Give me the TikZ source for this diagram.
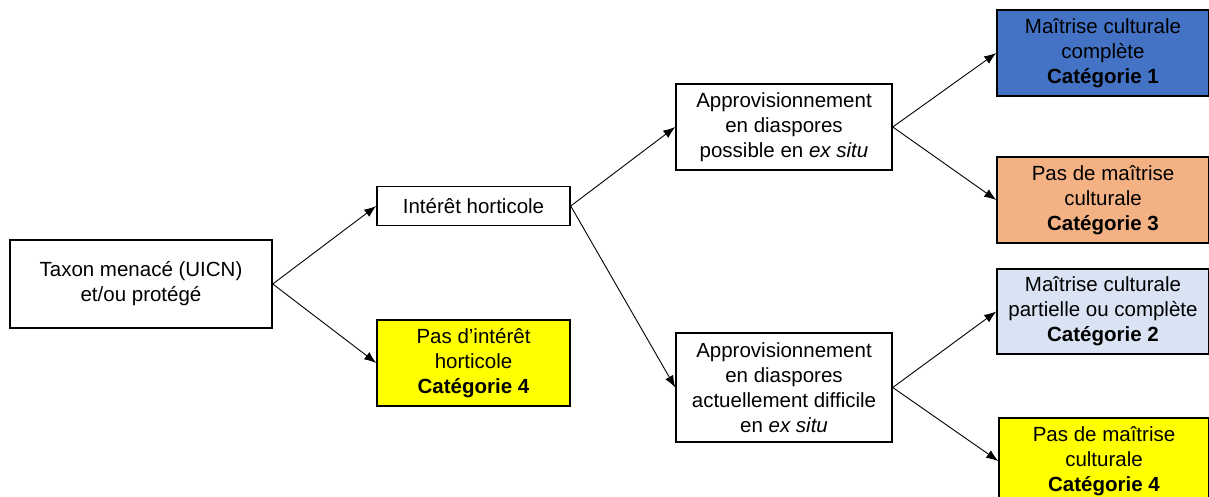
\documentclass[tikz,border=0pt]{standalone}
\usepackage{fontspec}
\setmainfont{Liberation Sans}
\usetikzlibrary{arrows.meta}
\definecolor{catbleu}{HTML}{4472C4}
\definecolor{catorange}{HTML}{F4B183}
\definecolor{catclair}{HTML}{DAE3F3}
\definecolor{catjaune}{HTML}{FFFF00}
\tikzset{boite/.style={draw=black,line width=1.5pt,align=center,inner sep=0pt,
        font=\fontsize{20.5}{25}\selectfont},
    fleche/.style={-{Latex[length=12pt,width=9pt]},line width=0.9pt}}

\begin{document}
\begin{tikzpicture}[x=1pt,y=-1pt]
        \clip (0,0) rectangle (1209,497);
        \node [boite,minimum width=262pt,minimum height=88pt] (taxon) at (141,284) {Taxon menacé (UICN)\\et/ou protégé};
        \node [boite,minimum width=193pt,minimum height=39pt] (interet) at (473.5,206) {Intérêt horticole};
        \node [boite,fill=catjaune,minimum width=193pt,minimum height=86pt] (pasinteret) at (473.5,363) {Pas d’intérêt\\horticole\\\textbf{Catégorie 4}};
        \node [boite,minimum width=216pt,minimum height=86pt] (approposs) at (784,127) {Approvisionnement\\en diaspores\\possible en \textit{ex situ}};
        \node [boite,minimum width=216pt,minimum height=109pt] (approdiff) at (784,387.5) {Approvisionnement\\en diaspores\\actuellement difficile\\en \textit{ex situ}};
        \node [boite,fill=catbleu,minimum width=212pt,minimum height=86pt] (cat1) at (1103,53) {Maîtrise culturale\\complète\\\textbf{Catégorie 1}};
        \node [boite,fill=catorange,minimum width=212pt,minimum height=86pt] (cat3) at (1103,200) {Pas de maîtrise\\culturale\\\textbf{Catégorie 3}};
        \node [boite,fill=catclair,minimum width=212pt,minimum height=85pt] (cat2) at (1103,311.5) {Maîtrise culturale\\partielle ou complète\\\textbf{Catégorie 2}};
        \node [boite,fill=catjaune,minimum width=210pt,minimum height=86pt] (cat4) at (1104,461) {Pas de maîtrise\\culturale\\\textbf{Catégorie 4}};
        \draw [fleche] (taxon.east) -- (interet.west);
        \draw [fleche] (taxon.east) -- (pasinteret.west);
        \draw [fleche] (interet.east) -- (approposs.west);
        \draw [fleche] (interet.east) -- (approdiff.west);
        \draw [fleche] (approposs.east) -- (cat1.west);
        \draw [fleche] (approposs.east) -- (cat3.west);
        \draw [fleche] (approdiff.east) -- (cat2.west);
        \draw [fleche] (approdiff.east) -- (cat4.west);
\end{tikzpicture}
\end{document}
